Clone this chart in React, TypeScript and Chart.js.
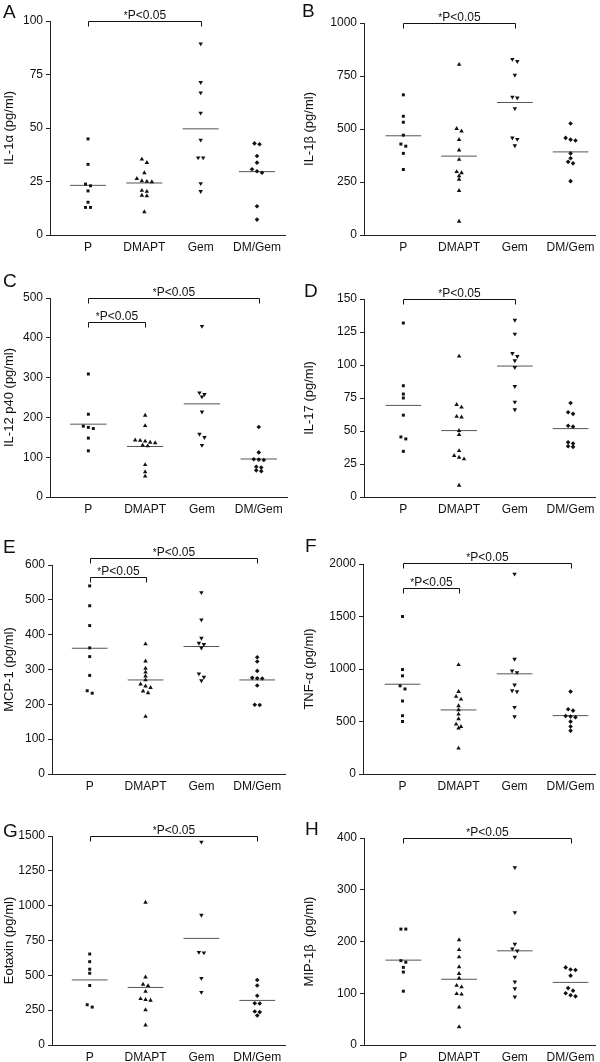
import React, { useEffect, useRef } from "react";
import { Chart, registerables } from "chart.js";

Chart.register(...registerables);

// ---------- categories ----------
const GROUPS = ["P", "DMAPT", "Gem", "DM/Gem"];

// ---------- A: IL-1α ----------
const aP = [44.9, 33.0, 23.8, 23.0, 20.6, 15.3, 12.9, 12.9];
const aDMAPT = [35.4, 33.8, 29.0, 26.3, 25.3, 25.0, 24.8, 20.8, 20.3, 18.5, 18.3, 10.8];
const aGem = [89.4, 71.3, 66.5, 57.0, 44.4, 36.1, 36.1, 24.1, 20.4];
const aDMGem = [42.8, 42.4, 36.9, 33.8, 30.7, 29.8, 29.1, 13.4, 7.2];
const aMeans = [23.2, 24.3, 49.6, 29.6];
const aTicks = [0, 25, 50, 75, 100];

// ---------- B: IL-1β ----------
const bP = [661, 560, 532, 471, 429, 419, 385, 309];
const bDMAPT = [804, 502, 490, 450, 400, 356, 298, 293, 279, 262, 209, 64];
const bGem = [829, 819, 754, 651, 647, 597, 458, 452, 422];
const bDMGem = [526, 458, 450, 446, 385, 362, 345, 338, 254];
const bMeans = [468, 372, 625, 392];
const bTicks = [0, 250, 500, 750, 1000];

// ---------- C: IL-12 p40 ----------
const cP = [309, 208, 178, 175, 172, 148, 116];
const cDMAPT = [205, 179, 143, 142, 140, 137, 136, 130, 128, 81, 63, 52];
const cGem = [429, 262, 258, 252, 214, 158, 150, 130];
const cDMGem = [176, 112, 95, 94, 93, 76, 74, 67, 65];
const cMeans = [183, 127, 234, 95.5];
const cTicks = [0, 100, 200, 300, 400, 500];

// ---------- D: IL-17 ----------
const dP = [131.8, 84.3, 78, 75, 62, 45.5, 44, 34.6];
const dDMAPT = [106.6, 70, 68, 61, 60.5, 50.3, 47.2, 35, 31.3, 30, 28.8, 8.8];
const dGem = [134, 123.5, 108.8, 106.6, 103.3, 98.2, 83.8, 72, 66.2];
const dDMGem = [71.2, 64.2, 63, 54, 53.3, 41.4, 40.5, 38.4, 38];
const dMeans = [69.4, 50.3, 99.2, 51.8];
const dTicks = [0, 25, 50, 75, 100, 125, 150];

// ---------- E: MCP-1 ----------
const eP = [540, 483, 426, 362, 337, 283, 239, 232];
const eDMAPT = [373, 324, 303, 292, 281, 270, 258, 252, 248, 238, 233, 165];
const eGem = [521, 443, 390, 376, 372, 362, 288, 278, 268];
const eDMGem = [335, 323, 296, 276, 275, 274, 254, 199, 198];
const eMeans = [361, 270, 366, 270];
const eTicks = [0, 100, 200, 300, 400, 500, 600];

// ---------- F: TNF-α ----------
const fP = [1500, 995, 935, 840, 810, 695, 555, 500];
const fDMAPT = [1040, 785, 738, 712, 648, 610, 569, 525, 474, 451, 436, 245];
const fGem = [1905, 1094, 982, 967, 849, 795, 785, 636, 547];
const fDMGem = [785, 617, 604, 553, 547, 540, 499, 452, 413];
const fMeans = [855, 610, 954, 556];
const fTicks = [0, 500, 1000, 1500, 2000];

// ---------- G: Eotaxin ----------
const gP = [653, 598, 544, 515, 427, 289, 272];
const gDMAPT = [1023, 487, 435, 425, 384, 332, 326, 320, 252, 143];
const gGem = [1457, 932, 666, 662, 479, 379];
const gDMGem = [467, 427, 353, 300, 298, 240, 236, 212];
const gMeans = [467, 413, 765, 320];
const gTicks = [0, 250, 500, 750, 1000, 1250, 1500];

// ---------- H: MIP-1β ----------
const hP = [224, 224, 163, 160, 150, 141, 104];
const hDMAPT = [203, 184, 170, 151, 138, 129, 115, 112, 99, 98, 73, 35];
const hGem = [343, 256, 195, 186, 182, 170, 122, 109, 93];
const hDMGem = [150, 146, 145, 134, 110, 105, 100, 96, 94];
const hMeans = [164, 127, 182, 121];
const hTicks = [0, 100, 200, 300, 400];

// ---------- significance brackets: [from, to, level] ----------
const aSig: [string, string, number][] = [["P", "Gem", 100]];
const bSig: [string, string, number][] = [["P", "Gem", 1000]];
const cSig: [string, string, number][] = [["P", "DM/Gem", 500], ["P", "DMAPT", 440]];
const dSig: [string, string, number][] = [["P", "Gem", 150]];
const eSig: [string, string, number][] = [["P", "DM/Gem", 619], ["P", "DMAPT", 566]];
const fSig: [string, string, number][] = [["P", "DM/Gem", 2012], ["P", "DMAPT", 1768]];
const gSig: [string, string, number][] = [["P", "DM/Gem", 1500]];
const hSig: [string, string, number][] = [["P", "DM/Gem", 400]];
const SIG_TEXT = "P<0.05";

type Panel = {
  letter: string;
  title: string;
  ticks: number[];
  series: number[][];
  means: number[];
  sig: [string, string, number][];
};

const PANELS: Panel[] = [
  { letter: "A", title: "IL-1α (pg/ml)", ticks: aTicks, series: [aP, aDMAPT, aGem, aDMGem], means: aMeans, sig: aSig },
  { letter: "B", title: "IL-1β (pg/ml)", ticks: bTicks, series: [bP, bDMAPT, bGem, bDMGem], means: bMeans, sig: bSig },
  { letter: "C", title: "IL-12 p40 (pg/ml)", ticks: cTicks, series: [cP, cDMAPT, cGem, cDMGem], means: cMeans, sig: cSig },
  { letter: "D", title: "IL-17 (pg/ml)", ticks: dTicks, series: [dP, dDMAPT, dGem, dDMGem], means: dMeans, sig: dSig },
  { letter: "E", title: "MCP-1 (pg/ml)", ticks: eTicks, series: [eP, eDMAPT, eGem, eDMGem], means: eMeans, sig: eSig },
  { letter: "F", title: "TNF-α (pg/ml)", ticks: fTicks, series: [fP, fDMAPT, fGem, fDMGem], means: fMeans, sig: fSig },
  { letter: "G", title: "Eotaxin (pg/ml)", ticks: gTicks, series: [gP, gDMAPT, gGem, gDMGem], means: gMeans, sig: gSig },
  { letter: "H", title: "MIP-1β  (pg/ml)", ticks: hTicks, series: [hP, hDMAPT, hGem, hDMGem], means: hMeans, sig: hSig },
];

// ---------- layout (pixels) ----------
type Box = {
  left: number; top: number; w: number; h: number;
  yw: number; padTop: number; xh: number; padRight: number;
  xMin: number; xMax: number; lx: number; ly: number;
};
const LEFT_X = { xMin: 0.325, xMax: 4.497 };
const RIGHT_X = { xMin: 0.294, xMax: 4.441 };
const BOXES: Box[] = [
  { left: 0, top: 0, w: 300, h: 260, yw: 50, padTop: 21, xh: 25, padRight: 15, ...LEFT_X, lx: 3, ly: 18 },
  { left: 300, top: 0, w: 300, h: 260, yw: 64, padTop: 23, xh: 25, padRight: 1, ...RIGHT_X, lx: 2, ly: 17 },
  { left: 0, top: 260, w: 300, h: 260, yw: 50, padTop: 38, xh: 23, padRight: 13, ...LEFT_X, lx: 3, ly: 27 },
  { left: 300, top: 260, w: 300, h: 260, yw: 64, padTop: 39, xh: 23, padRight: 1, ...RIGHT_X, lx: 4, ly: 37 },
  { left: 0, top: 520, w: 300, h: 280, yw: 52, padTop: 45, xh: 26, padRight: 15, ...LEFT_X, lx: 3, ly: 33 },
  { left: 300, top: 520, w: 300, h: 280, yw: 63, padTop: 44, xh: 26, padRight: 0, ...RIGHT_X, lx: 5, ly: 32 },
  { left: 0, top: 800, w: 300, h: 262, yw: 52, padTop: 36, xh: 17, padRight: 15, ...LEFT_X, lx: 3, ly: 37 },
  { left: 300, top: 800, w: 300, h: 262, yw: 64, padTop: 38, xh: 17, padRight: 1, ...RIGHT_X, lx: 5, ly: 35 },
];

const FONT = "'Liberation Sans', Arial, Helvetica, sans-serif";
const INK = "#111111";
const AXIS = "#222222";
const MEAN_COLOR = "#555555";
const MARKERS = [
  { style: "rect", rotation: 0, radius: 2.1 },
  { style: "triangle", rotation: 0, radius: 2.6 },
  { style: "triangle", rotation: 180, radius: 2.6 },
  { style: "rectRot", rotation: 0, radius: 2.3 },
];
const SPREAD_PX = 5; // horizontal spacing of overlapping points
const ROW_PX = 3.5; // vertical closeness that puts points in one row
const MEAN_HALF = 0.32;

// Prism-like horizontal spreading of close values (computed, not typed)
function swarmOffsets(vals: number[], pxPerY: number, dUnits: number): number[] {
  const idx = vals.map((_, i) => i).sort((i, j) => vals[j] - vals[i]);
  const offs = new Array(vals.length).fill(0);
  let row: number[] = [];
  const flush = () => {
    const n = row.length;
    row.forEach((k, r) => { offs[k] = (r - (n - 1) / 2) * dUnits; });
    row = [];
  };
  idx.forEach((k) => {
    if (row.length && (vals[row[0]] - vals[k]) * pxPerY > ROW_PX) flush();
    row.push(k);
  });
  flush();
  return offs;
}

function PanelChart({ panel, box }: { panel: Panel; box: Box }) {
  const ref = useRef<HTMLCanvasElement>(null);
  useEffect(() => {
    const canvas = ref.current!;
    const yMax = panel.ticks[panel.ticks.length - 1];
    const plotH = box.h - box.padTop - box.xh;
    const plotW = box.w - box.yw - box.padRight;
    const pxPerY = plotH / yMax;
    const pxPerX = plotW / (box.xMax - box.xMin);
    const dUnits = SPREAD_PX / pxPerX;

    const datasets: any[] = [];
    panel.series.forEach((vals, gi) => {
      const offs = swarmOffsets(vals, pxPerY, dUnits);
      const m = MARKERS[gi];
      datasets.push({
        type: "scatter",
        data: vals.map((v, k) => ({ x: gi + 1 + offs[k], y: v })),
        pointStyle: m.style,
        pointRotation: m.rotation,
        pointRadius: m.radius,
        pointBackgroundColor: INK,
        pointBorderColor: INK,
        pointBorderWidth: 0,
        showLine: false,
        clip: false,
      });
    });
    panel.means.forEach((mv, gi) => {
      datasets.push({
        type: "line",
        data: [
          { x: gi + 1 - MEAN_HALF, y: mv },
          { x: gi + 1 + MEAN_HALF, y: mv },
        ],
        borderColor: MEAN_COLOR,
        borderWidth: 1,
        pointRadius: 0,
        fill: false,
        tension: 0,
      });
    });

    const sigPlugin = {
      id: "sigBrackets",
      afterDraw(chart: any) {
        const { ctx } = chart;
        const xs = chart.scales.x;
        const ys = chart.scales.y;
        ctx.save();
        ctx.strokeStyle = INK;
        ctx.fillStyle = INK;
        ctx.lineWidth = 1;
        panel.sig.forEach(([a, b, level]) => {
          const x1 = Math.round(xs.getPixelForValue(GROUPS.indexOf(a) + 1)) + 0.5;
          const x2 = Math.round(xs.getPixelForValue(GROUPS.indexOf(b) + 1)) + 0.5;
          const yy = Math.round(ys.getPixelForValue(level)) + 0.5;
          ctx.beginPath();
          ctx.moveTo(x1, yy + 5);
          ctx.lineTo(x1, yy);
          ctx.lineTo(x2, yy);
          ctx.lineTo(x2, yy + 5);
          ctx.stroke();
          ctx.textBaseline = "alphabetic";
          ctx.textAlign = "left";
          ctx.font = `10px ${FONT}`;
          const wStar = ctx.measureText("*").width;
          ctx.font = `12px ${FONT}`;
          const wRest = ctx.measureText(SIG_TEXT).width;
          const start = (x1 + x2) / 2 - (wStar + wRest) / 2;
          const base = yy - 3;
          ctx.font = `10px ${FONT}`;
          ctx.fillText("*", start, base);
          ctx.font = `12px ${FONT}`;
          ctx.fillText(SIG_TEXT, start + wStar, base);
        });
        ctx.font = `19px ${FONT}`;
        ctx.textAlign = "left";
        ctx.textBaseline = "alphabetic";
        ctx.fillText(panel.letter, box.lx, box.ly);
        ctx.restore();
      },
    };

    const chart = new Chart(canvas, {
      type: "scatter",
      data: { datasets },
      options: {
        responsive: false,
        animation: false,
        devicePixelRatio: 1,
        layout: { padding: { top: box.padTop, right: box.padRight, left: 0, bottom: 0 } },
        plugins: { legend: { display: false }, tooltip: { enabled: false } },
        scales: {
          x: {
            type: "linear",
            position: "bottom",
            min: box.xMin,
            max: box.xMax,
            afterBuildTicks: (s: any) => {
              s.ticks = GROUPS.map((_, i) => ({ value: i + 1 }));
            },
            afterFit: (s: any) => {
              s.height = box.xh;
            },
            ticks: {
              callback: (v: any) => GROUPS[Math.round(v) - 1] ?? "",
              font: { family: FONT, size: 12 },
              color: INK,
              padding: 5,
              autoSkip: false,
              maxRotation: 0,
            },
            grid: { display: false, drawTicks: false },
            border: { display: true, color: AXIS, width: 1 },
          },
          y: {
            type: "linear",
            min: 0,
            max: yMax,
            afterBuildTicks: (s: any) => {
              s.ticks = panel.ticks.map((v) => ({ value: v }));
            },
            afterFit: (s: any) => {
              s.width = box.yw;
            },
            ticks: {
              callback: (v: any) => String(v),
              font: { family: FONT, size: 12 },
              color: INK,
              padding: 3,
              autoSkip: false,
            },
            grid: { display: true, drawOnChartArea: false, drawTicks: true, tickLength: 4, color: AXIS },
            border: { display: true, color: AXIS, width: 1 },
            title: {
              display: true,
              text: panel.title,
              font: { family: FONT, size: 13 },
              color: INK,
              padding: { top: 1.5, bottom: 0 },
            },
          },
        },
      } as any,
      plugins: [sigPlugin],
    });
    return () => chart.destroy();
  }, [panel, box]);

  return (
    <canvas
      ref={ref}
      width={box.w}
      height={box.h}
      style={{ position: "absolute", left: box.left, top: box.top, width: box.w, height: box.h }}
    />
  );
}

export default function App() {
  return (
    <div style={{ position: "absolute", left: 0, top: 0, width: 600, height: 1062, background: "#ffffff" }}>
      {PANELS.map((p, i) => (
        <PanelChart key={p.letter} panel={p} box={BOXES[i]} />
      ))}
    </div>
  );
}
